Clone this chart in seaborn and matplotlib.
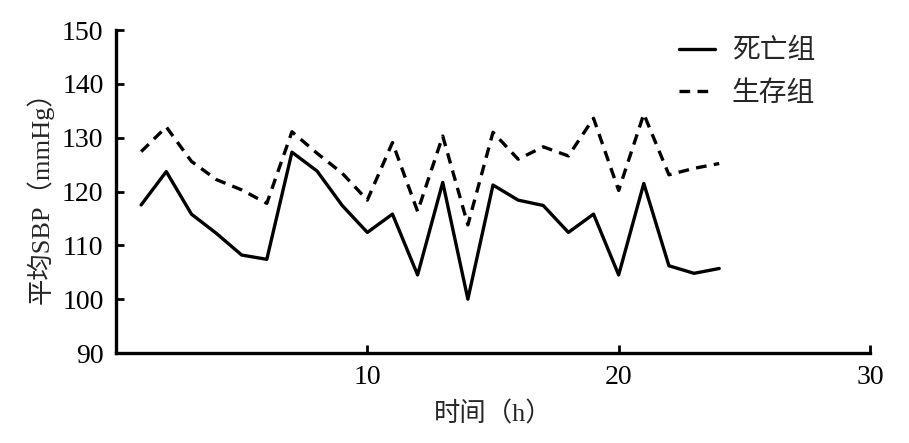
import matplotlib
matplotlib.use("Agg")
import matplotlib.pyplot as plt
import seaborn as sns
import pandas as pd

hours = list(range(1, 25))
death = [117.5, 123.7, 115.8, 112.2, 108.2, 107.4, 127.3, 123.8, 117.4, 112.4,
         115.8, 104.5, 121.7, 100.0, 121.2, 118.4, 117.4, 112.4, 115.8, 104.5,
         121.5, 106.2, 104.8, 105.7]
survive = [127.4, 132.0, 125.6, 122.2, 120.3, 117.8, 131.1, 127.1, 123.4, 118.4,
           129.1, 116.3, 130.3, 113.8, 131.0, 126.0, 128.3, 126.6, 133.6, 120.2,
           134.4, 123.1, 124.3, 125.2]
series_names = ["死亡组", "生存组"]
yticks = [90, 100, 110, 120, 130, 140, 150]
xticks = [10, 20, 30]

sns.set_theme(style="ticks")
plt.rcParams['font.family'] = ['Liberation Serif', 'Noto Sans CJK SC', 'DejaVu Sans']

df = pd.DataFrame({
    "h": hours * 2,
    "SBP": death + survive,
    "组": [series_names[0]] * len(hours) + [series_names[1]] * len(hours),
})

fig = plt.figure(figsize=(9.09, 4.43), dpi=100)
ax = fig.add_axes([116/909, 1 - 353/443, (870 - 116)/909, (353 - 30)/443])

sns.lineplot(data=df, x="h", y="SBP", style="组", style_order=series_names,
             dashes={series_names[0]: "", series_names[1]: (3.2, 2.2)},
             color="black", linewidth=2.4, ax=ax, legend=True)

ax.set_xlim(0, 30)
ax.set_ylim(90, 150)
ax.set_xticks(xticks)
ax.set_yticks(yticks)
ax.tick_params(direction="in", length=6, width=2, labelsize=20, pad=9, colors="black")
for s in ["top", "right"]:
    ax.spines[s].set_visible(False)
for s in ["left", "bottom"]:
    ax.spines[s].set_linewidth(2.4)
    ax.spines[s].set_color("black")

ax.set_xlabel("时间（h）", fontsize=19, labelpad=8)
ax.set_ylabel("平均SBP（mmHg）", fontsize=19, labelpad=6)

leg = ax.legend(loc="upper right", bbox_to_anchor=(0.96, 1.05), frameon=False,
                fontsize=20, handlelength=1.3, labelspacing=0.62, handletextpad=0.6)

fig.savefig("out.png", dpi=100)
